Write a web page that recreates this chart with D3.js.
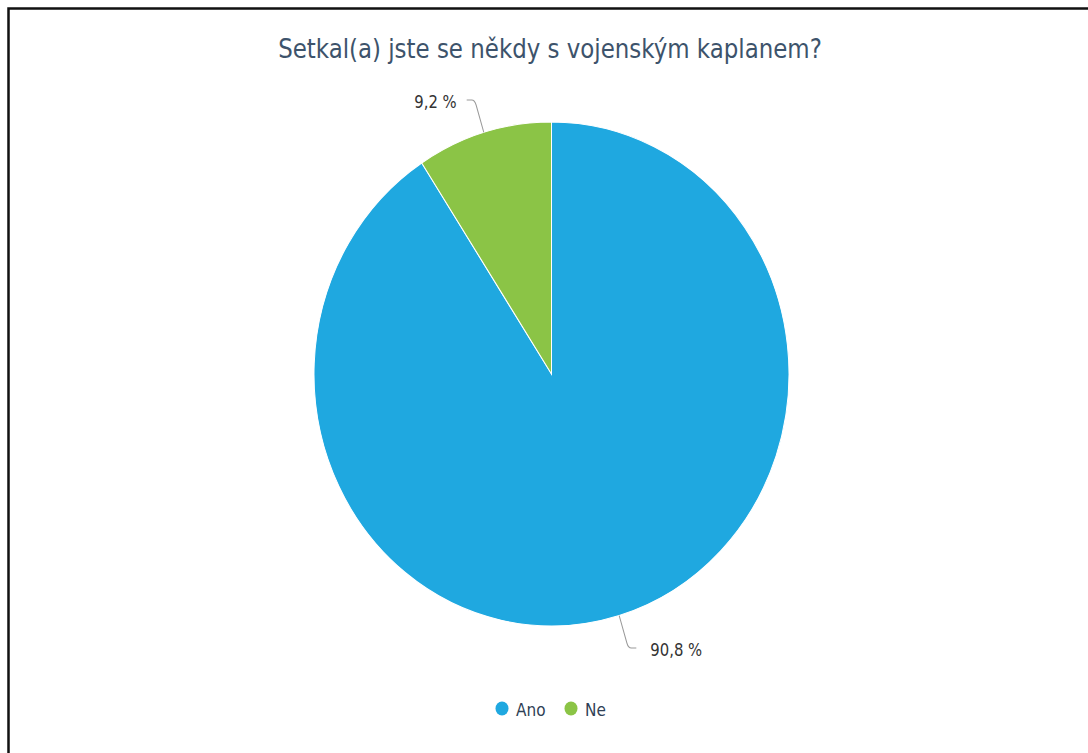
<!DOCTYPE html>
<html>
<head>
<meta charset="utf-8">
<script src="https://cdn.jsdelivr.net/npm/d3@7"></script>
<style>
  html, body { margin: 0; background: #fff; overflow: hidden; }
  svg { display: block; }
</style>
</head>
<body>
<svg id="chart" width="1088" height="753"></svg>
<script>
// data
var categories = ["Ano", "Ne"];
var values = [90.8, 9.2];
var labels = ["90,8 %", "9,2 %"];
var colors = ["#1fa8e0", "#8bc446"];
var title = "Setkal(a) jste se někdy s vojenským kaplanem?";

var W = 1088, H = 753;
var sy = 1.061;          // picture is a bit stretched vertically
var cx = 551.5, cy = 374, r = 237.5;
var font = "'DejaVu Sans Condensed', 'DejaVu Sans', sans-serif";

var svg = d3.select("#chart");

// frame (only top and left edges are visible)
svg.append("path")
    .attr("d", "M8.5," + H + "V8.5H" + W)
    .style("fill", "none")
    .style("stroke", "#111")
    .style("stroke-width", 2.5);

var root = svg.append("g").attr("transform", "scale(1," + sy + ")");

root.append("text")
    .attr("x", 550).attr("y", 58 / sy)
    .attr("text-anchor", "middle")
    .style("font-family", font)
    .style("font-size", "25.5px")
    .style("fill", "#3d536b")
    .text(title);

var pie = d3.pie().sort(null).value(function(d) { return d; });
var arcs = pie(values);
var arc = d3.arc().innerRadius(0).outerRadius(r);

var g = root.append("g").attr("transform", "translate(" + cx + "," + (cy / sy) + ")");

g.selectAll("path.slice")
    .data(arcs)
    .enter().append("path")
    .attr("class", "slice")
    .attr("d", arc)
    .style("fill", function(d, i) { return colors[i]; })
    .style("stroke", "#fff")
    .style("stroke-width", 1);

// labels with connectors
function pt(a, rad) {
    return [Math.sin(a) * rad, -Math.cos(a) * rad];
}
arcs.forEach(function(d, i) {
    var mid = (d.startAngle + d.endAngle) / 2;
    var side = Math.sin(mid) >= 0 ? 1 : -1;
    var a = pt(mid, r);
    var e = pt(mid, r + 32);
    var end = [e[0] + side * 8, e[1]];
    var p = d3.path();
    p.moveTo(end[0], end[1]);
    p.lineTo(e[0] + side * 3, e[1]);
    var k = 5 / Math.hypot(a[0] - e[0], a[1] - e[1]);
    p.quadraticCurveTo(e[0], e[1], e[0] + (a[0] - e[0]) * k, e[1] + (a[1] - e[1]) * k);
    p.lineTo(a[0], a[1]);
    g.append("path")
        .attr("d", p.toString())
        .style("fill", "none")
        .style("stroke", "#999")
        .style("stroke-width", 1);
    g.append("text")
        .attr("x", end[0] + side * (side > 0 ? 14 : 10))
        .attr("y", end[1] + 8 / sy)
        .attr("text-anchor", side > 0 ? "start" : "end")
        .style("font-family", font)
        .style("font-size", "16.5px")
        .style("fill", "#333")
        .text(labels[i]);
});

// legend
var legendX = [502, 571];
var leg = root.selectAll("g.leg")
    .data(categories)
    .enter().append("g")
    .attr("class", "leg")
    .attr("transform", function(d, i) { return "translate(" + legendX[i] + "," + (708.5 / sy) + ")"; });
leg.append("circle")
    .attr("r", 6.5)
    .style("fill", function(d, i) { return colors[i]; });
leg.append("text")
    .attr("x", 14)
    .attr("y", 7.5 / sy)
    .style("font-family", font)
    .style("font-size", "17px")
    .style("fill", "#2f3f55")
    .text(function(d) { return d; });
</script>
</body>
</html>
